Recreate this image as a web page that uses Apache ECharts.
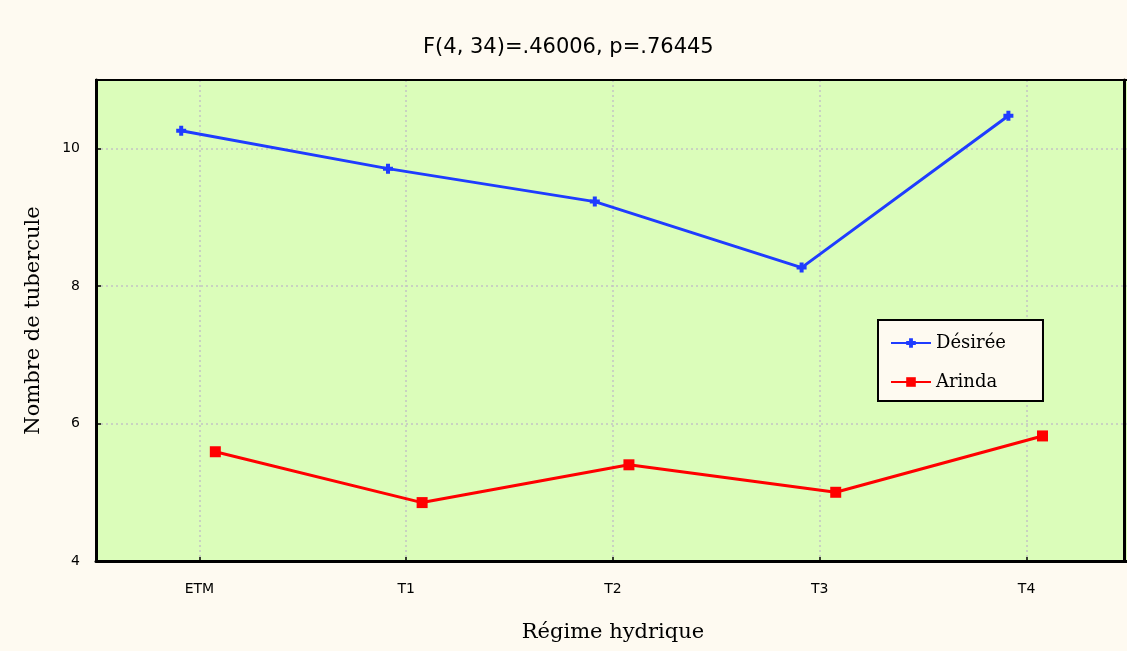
<!DOCTYPE html>
<html>
<head>
<meta charset="utf-8">
<script src="https://cdn.jsdelivr.net/npm/echarts@6/dist/echarts.min.js"></script>
<style>
  html, body { margin: 0; padding: 0; background: #fefaf1; }
  #chart { width: 1127px; height: 651px; }
</style>
</head>
<body>
<div id="chart"></div>
<script>
// Regime categories and mean tuber counts per variety
const categories = ['ETM', 'T1', 'T2', 'T3', 'T4'];
const desireeValues = [10.26, 9.71, 9.23, 8.27, 10.48];
const arindaValues = [5.59, 4.85, 5.40, 5.00, 5.82];
const seriesNames = ['Désirée', 'Arinda'];
const titleText = 'F(4, 34)=.46006, p=.76445';
const xTitle = 'Régime hydrique';
const yTitle = 'Nombre de tubercule';

// Small horizontal shift of each series around its category (in category units)
const DESIREE_SHIFT = -0.088;
const ARINDA_SHIFT = 0.077;

const toPoints = (vals, shift) => vals.map((v, i) => [i + shift, v]);

const chart = echarts.init(document.getElementById('chart'));
chart.setOption({
  backgroundColor: '#fefaf1',
  animation: false,
  title: {
    text: titleText,
    left: 418,
    top: 32,
    textStyle: { fontFamily: 'DejaVu Sans', fontSize: 21, fontWeight: 'normal', color: '#000' }
  },
  legend: {
    data: seriesNames,
    orient: 'vertical',
    left: 878,
    top: 320,
    backgroundColor: '#fefaf1',
    borderColor: '#000',
    borderWidth: 2,
    padding: [14, 37, 10, 12],
    itemWidth: 40,
    itemHeight: 12,
    itemGap: 21,
    textStyle: { fontFamily: 'DejaVu Serif', fontSize: 18, color: '#000' }
  },
  grid: {
    left: 96, top: 80, width: 1034, height: 481,
    outerBoundsMode: 'none',
    show: true,
    backgroundColor: '#dbfdba',
    borderColor: '#000',
    borderWidth: 2
  },
  xAxis: [
    {
      type: 'category',
      data: categories,
      boundaryGap: true,
      name: xTitle,
      nameLocation: 'middle',
      nameGap: 61,
      nameTextStyle: { fontFamily: 'DejaVu Serif', fontSize: 21, color: '#000' },
      axisLine: { onZero: false, lineStyle: { color: '#000', width: 3 } },
      axisTick: { show: true, inside: true, length: 4, alignWithLabel: true, lineStyle: { color: '#000', width: 1.5 } },
      axisLabel: { margin: 21, fontFamily: 'DejaVu Sans', fontSize: 14, color: '#000' },
      splitLine: { show: true, alignWithLabel: true, lineStyle: { color: '#c4c4c4', type: [2, 3], width: 1.5 } }
    },
    {
      type: 'value',
      min: -0.5,
      max: 4.5,
      show: false
    },
    {
      // top frame edge
      type: 'value',
      min: -0.5,
      max: 4.5,
      position: 'top',
      axisLine: { show: true, onZero: false, lineStyle: { color: '#000', width: 2 } },
      axisTick: { show: false },
      axisLabel: { show: false },
      splitLine: { show: false }
    }
  ],
  yAxis: [
    {
      type: 'value',
      min: 4,
      max: 11,
      interval: 2,
      name: yTitle,
      nameLocation: 'middle',
      nameGap: 52,
      nameTextStyle: { fontFamily: 'DejaVu Serif', fontSize: 21, color: '#000' },
      axisLine: { show: true, onZero: false, lineStyle: { color: '#000', width: 3 } },
      axisTick: { show: true, inside: true, length: 5, lineStyle: { color: '#000', width: 1.5 } },
      axisLabel: { margin: 16, fontFamily: 'DejaVu Sans', fontSize: 14, color: '#000', showMaxLabel: false },
      splitLine: { show: true, showMaxLine: false, lineStyle: { color: '#c4c4c4', type: [2, 3], width: 1.5 } }
    },
    {
      // right frame edge
      type: 'value',
      min: 4,
      max: 11,
      position: 'right',
      offset: -6,
      axisLine: { show: true, onZero: false, lineStyle: { color: '#000', width: 3 } },
      axisTick: { show: false },
      axisLabel: { show: false },
      splitLine: { show: false }
    }
  ],
  series: [
    {
      name: seriesNames[0],
      type: 'line',
      xAxisIndex: 1,
      yAxisIndex: 0,
      data: toPoints(desireeValues, DESIREE_SHIFT),
      symbol: 'path://M3,0H7V3H10V7H7V10H3V7H0V3H3Z',
      symbolSize: 10,
      itemStyle: { color: '#1f3cff' },
      lineStyle: { color: '#1f3cff', width: 3 },
      z: 3
    },
    {
      name: seriesNames[1],
      type: 'line',
      xAxisIndex: 1,
      yAxisIndex: 0,
      data: toPoints(arindaValues, ARINDA_SHIFT),
      symbol: 'rect',
      symbolSize: 11,
      itemStyle: { color: '#ff0000' },
      lineStyle: { color: '#ff0000', width: 3 },
      z: 3
    }
  ]
});
</script>
</body>
</html>
